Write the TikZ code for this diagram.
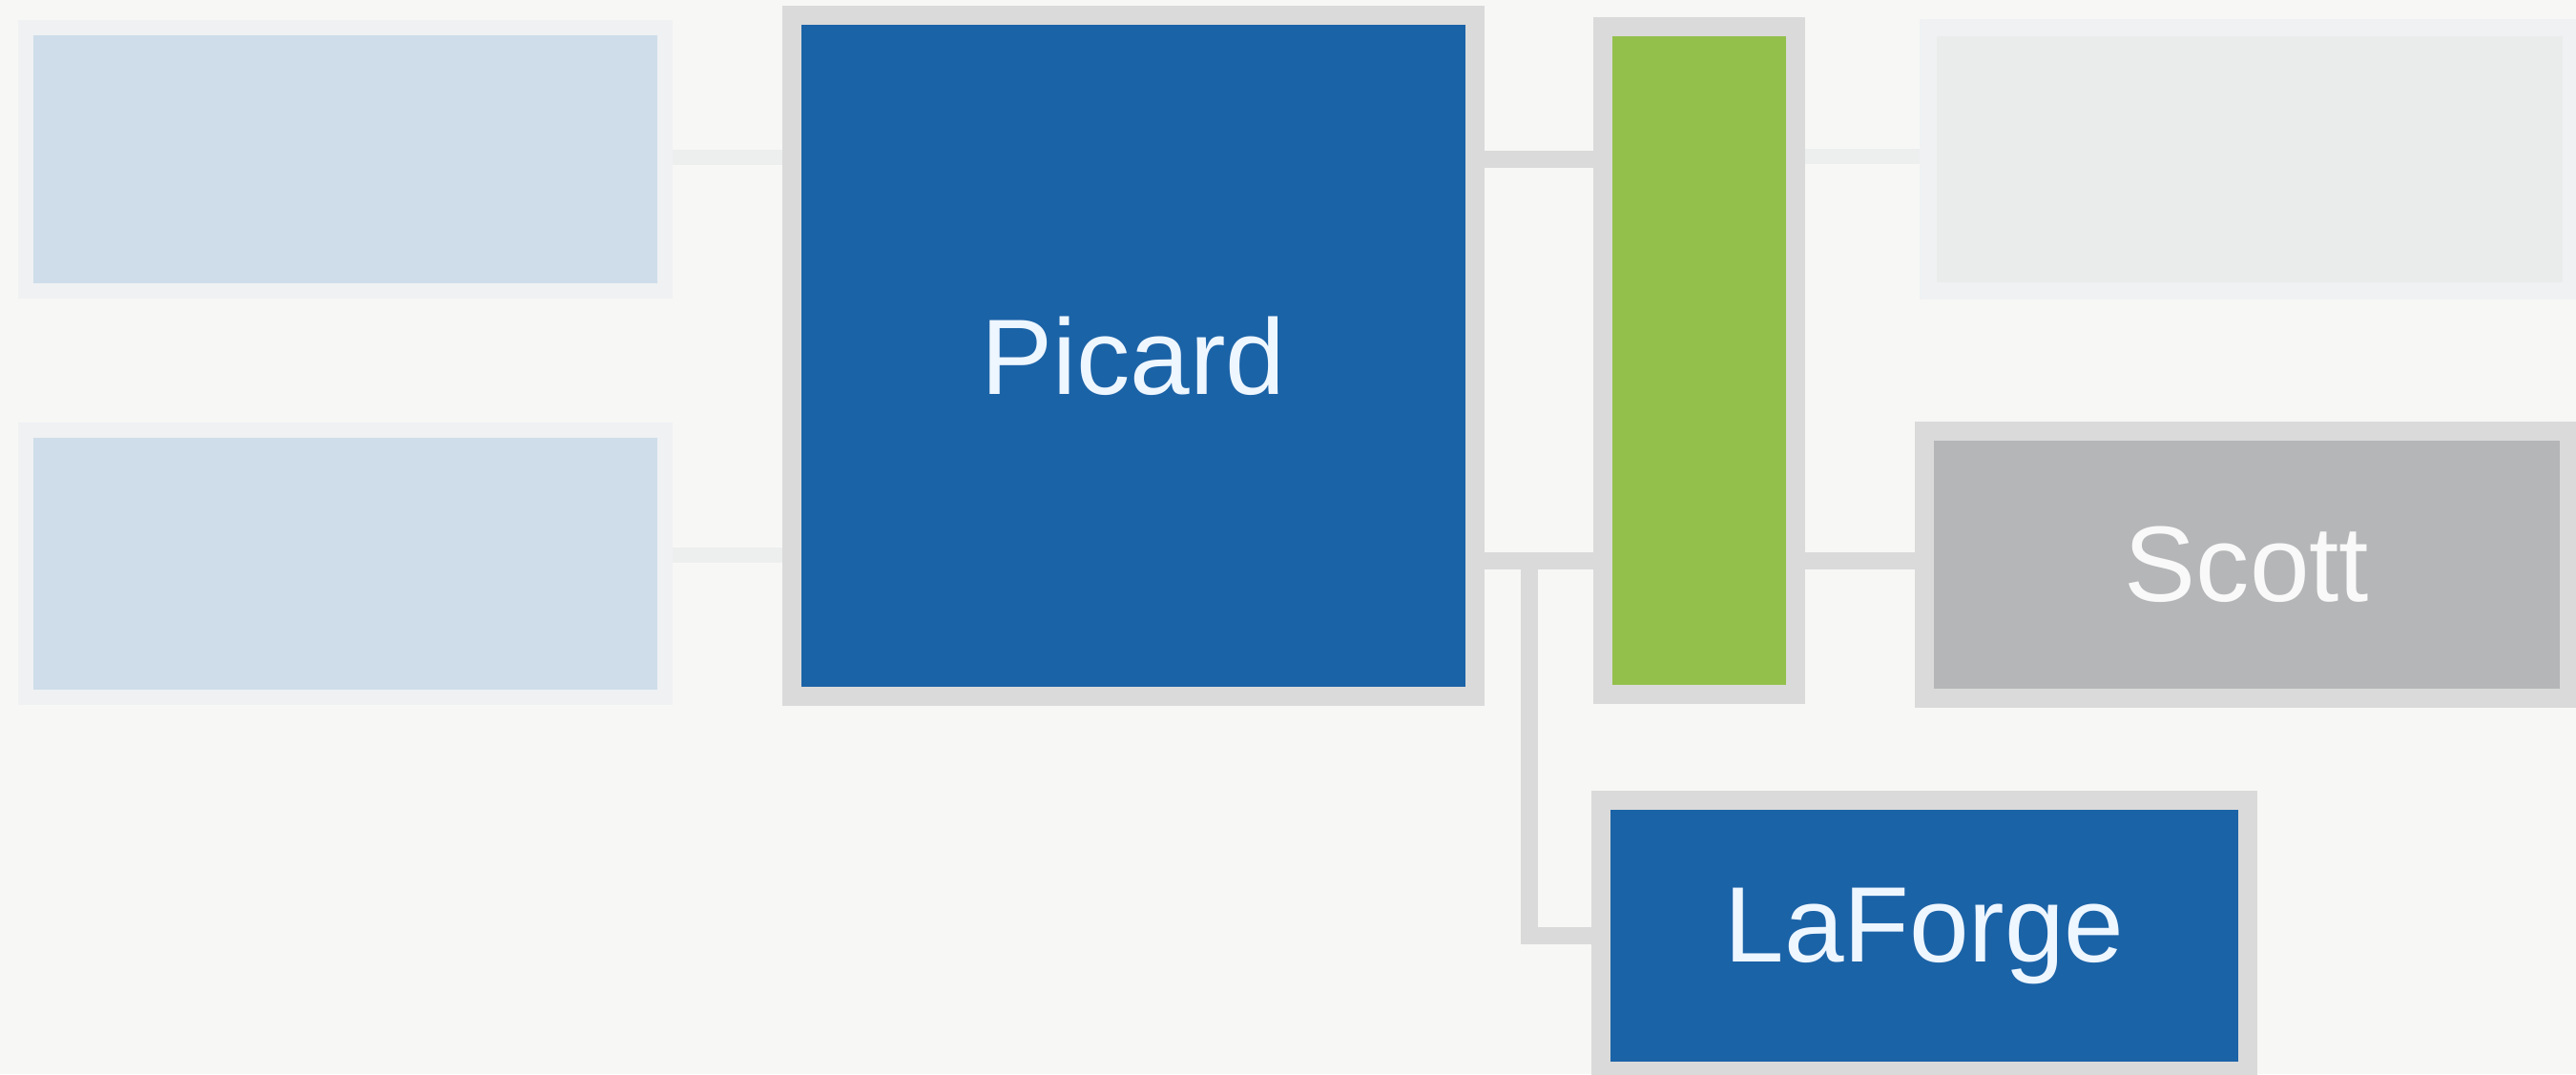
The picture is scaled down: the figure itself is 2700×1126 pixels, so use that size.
\documentclass[tikz,border=0pt]{standalone}
\usepackage{fontspec}
\setmainfont{Liberation Sans}
\usetikzlibrary{backgrounds}
\definecolor{bgc}{HTML}{F7F7F6}
\definecolor{lightblue}{HTML}{CEDDE9}
\definecolor{faintborder}{HTML}{EFF1F3}
\definecolor{darkblue}{HTML}{1B63A7}
\definecolor{leafgreen}{HTML}{93C04B}
\definecolor{graybord}{HTML}{DADADA}
\definecolor{paleg}{HTML}{EAECEB}
\definecolor{scottfill}{HTML}{B5B6B8}
\definecolor{txtc}{HTML}{EEF6FF}
\definecolor{faintline}{HTML}{EDEEEE}
\tikzset{
  box/.style={rectangle, inner sep=0pt, outer sep=0pt},
  ghostbox/.style={box, fill=lightblue, draw=faintborder, line width=0.16cm},
  solidbox/.style={box, draw=graybord, line width=0.2cm},
  lbl/.style={text=txtc, font=\fontsize{32}{38}\selectfont},
  conn/.style={fill=graybord},
  faintconn/.style={fill=faintline}
}
\begin{document}
\begin{tikzpicture}[x=0.01cm,y=-0.01cm]
\useasboundingbox (0,0) rectangle (2700,1126);
\node[ghostbox, minimum width=6.69cm, minimum height=2.75cm] (lt) at (362,167) {};
\node[ghostbox, minimum width=6.69cm, minimum height=2.79cm] (lb) at (362,591) {};
\node[solidbox, fill=darkblue, minimum width=7.16cm, minimum height=7.13cm, lbl] (picard) at (1188,373) {Picard};
\node[solidbox, fill=leafgreen, minimum width=2.02cm, minimum height=7.0cm] (green) at (1781,378) {};
\node[box, fill=paleg, draw=faintborder, line width=0.18cm, minimum width=6.74cm, minimum height=2.76cm] (tr) at (2358,167) {};
\node[solidbox, fill=scottfill, minimum width=6.75cm, minimum height=2.8cm, lbl, text=white!95!gray] (scott) at (2355,592) {Scott};
\node[solidbox, fill=darkblue, minimum width=6.77cm, minimum height=2.84cm, lbl] (laforge) at (2017,981) {LaForge};
% helper coordinates for connector band edges
\coordinate (fa1) at (0,157); \coordinate (fa2) at (0,173);
\coordinate (fb1) at (0,574); \coordinate (fb2) at (0,590);
\coordinate (fc1) at (0,156); \coordinate (fc2) at (0,172);
\coordinate (ca1) at (0,158); \coordinate (ca2) at (0,176);
\coordinate (cb1) at (0,579); \coordinate (cb2) at (0,597);
\coordinate (vtop) at (1594,588);
\coordinate (vbot) at (1612,990);
\coordinate (hl1) at (1594,972);
\coordinate (hl2) at (0,990);
\begin{scope}[on background layer]
  \fill[bgc] (0,0) rectangle (2700,1126);
  \path[faintconn] (lt.east |- fa1) rectangle (picard.west |- fa2);
  \path[faintconn] (lb.east |- fb1) rectangle (picard.west |- fb2);
  \path[faintconn] (green.east |- fc1) rectangle (tr.west |- fc2);
  \path[conn] (picard.east |- ca1) rectangle (green.west |- ca2);
  \path[conn] (picard.east |- cb1) rectangle (green.west |- cb2);
  \path[conn] (green.east |- cb1) rectangle (scott.west |- cb2);
  \path[conn] (vtop) rectangle (vbot);
  \path[conn] (hl1) rectangle (laforge.west |- hl2);
\end{scope}
\end{tikzpicture}
\end{document}
